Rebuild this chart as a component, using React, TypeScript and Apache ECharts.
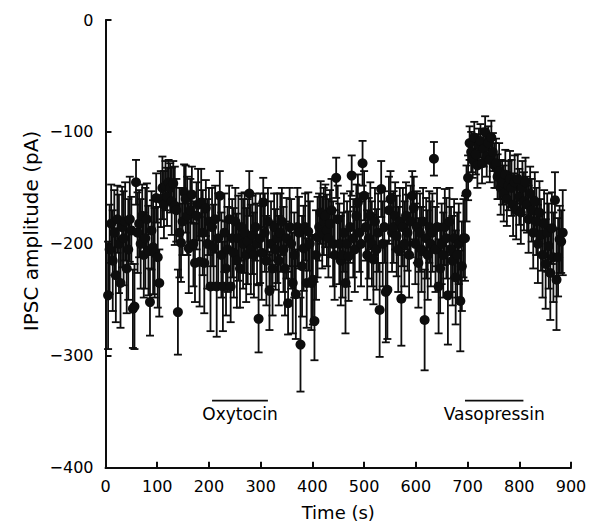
import React, { useEffect, useRef } from "react";
import * as echarts from "echarts";

const times: number[] = [
  5, 8, 11, 14, 17, 20, 23, 26, 29, 32,
  35, 38, 41, 44, 47, 50, 53, 56, 59, 62,
  65, 68, 71, 74, 77, 80, 83, 86, 89, 92,
  95, 98, 101, 104, 107, 110, 113, 116, 119, 122,
  125, 128, 131, 134, 137, 140, 143, 146, 149, 152,
  155, 158, 161, 164, 167, 170, 173, 176, 179, 182,
  185, 188, 191, 194, 197, 200, 203, 206, 209, 212,
  215, 218, 221, 224, 227, 230, 233, 236, 239, 242,
  245, 248, 251, 254, 257, 260, 263, 266, 269, 272,
  275, 278, 281, 284, 287, 290, 293, 296, 299, 302,
  305, 308, 311, 314, 317, 320, 323, 326, 329, 332,
  335, 338, 341, 344, 347, 350, 353, 356, 359, 362,
  365, 368, 371, 374, 377, 380, 383, 386, 389, 392,
  395, 398, 401, 404, 407, 410, 413, 416, 419, 422,
  425, 428, 431, 434, 437, 440, 443, 446, 449, 452,
  455, 458, 461, 464, 467, 470, 473, 476, 479, 482,
  485, 488, 491, 494, 497, 500, 503, 506, 509, 512,
  515, 518, 521, 524, 527, 530, 533, 536, 539, 542,
  545, 548, 551, 554, 557, 560, 563, 566, 569, 572,
  575, 578, 581, 584, 587, 590, 593, 596, 599, 602,
  605, 608, 611, 614, 617, 620, 623, 626, 629, 632,
  635, 638, 641, 644, 647, 650, 653, 656, 659, 662,
  665, 668, 671, 674, 677, 680, 683, 686, 689, 692,
  695, 698, 701, 704, 707, 710, 713, 716, 719, 722,
  725, 728, 731, 734, 737, 740, 743, 746, 749, 752,
  755, 758, 761, 764, 767, 770, 773, 776, 779, 782,
  785, 788, 791, 794, 797, 800, 803, 806, 809, 812,
  815, 818, 821, 824, 827, 830, 833, 836, 839, 842,
  845, 848, 851, 854, 857, 860, 863, 866, 869, 872,
  875, 878, 881, 884,
];

const amplitudes: number[] = [
  -246, -205, -182, -215, -190, -228, -178, -200, -235, -185,
  -195, -180, -222, -205, -178, -188, -258, -256, -145, -190,
  -182, -200, -175, -210, -195, -178, -206, -252, -188, -203,
  -208, -159, -212, -235, -160, -150, -165, -148, -158, -145,
  -150, -162, -146, -166, -170, -261, -190, -199, -180, -154,
  -160, -175, -204, -170, -156, -200, -217, -175, -165, -216,
  -163, -190, -217, -168, -200, -180, -238, -185, -203, -178,
  -238, -195, -157, -210, -238, -190, -222, -205, -178, -238,
  -195, -208, -180, -215, -195, -222, -185, -200, -190, -210,
  -198, -155, -205, -192, -210, -185, -200, -267, -195, -208,
  -163, -190, -215, -180, -242, -200, -222, -185, -205, -195,
  -215, -190, -180, -205, -222, -195, -253, -185, -200, -235,
  -210, -245, -185, -190, -290, -220, -204, -185, -235, -189,
  -200, -235, -232, -269, -210, -194, -185, -172, -190, -180,
  -175, -188, -195, -182, -170, -200, -210, -141, -178, -200,
  -215, -210, -190, -235, -200, -211, -185, -139, -195, -205,
  -175, -163, -190, -200, -128, -157, -185, -210, -195, -175,
  -200, -214, -180, -205, -190, -259, -151, -200, -185, -243,
  -241, -170, -160, -190, -185, -175, -193, -205, -180, -249,
  -185, -200, -175, -190, -210, -180, -157, -168, -200, -185,
  -217, -190, -205, -180, -268, -195, -210, -185, -200, -190,
  -124, -205, -185, -238, -222, -200, -210, -185, -195, -246,
  -180, -205, -215, -195, -230, -210, -200, -251, -220, -195,
  -195, -155, -141, -110, -118, -125, -105, -120, -130, -112,
  -108, -128, -115, -100, -122, -110, -125, -105, -118, -130,
  -128, -140, -135, -150, -145, -155, -138, -160, -148, -142,
  -150, -165, -145, -170, -142, -158, -172, -150, -162, -145,
  -165, -178, -155, -170, -190, -162, -180, -200, -172, -192,
  -210, -182, -218, -190, -202, -226, -186, -212, -161, -232,
  -212, -196, -198, -190,
];

const errors: number[] = [
  48, 40, 35, 45, 38, 42, 30, 44, 40, 36,
  42, 35, 40, 45, 38, 30, 35, 38, 20, 36,
  30, 40, 28, 38, 45, 32, 40, 30, 35, 42,
  40, 22, 45, 30, 25, 28, 30, 22, 26, 20,
  22, 30, 20, 35, 28, 38, 40, 35, 30, 25,
  30, 35, 40, 28, 25, 38, 35, 30, 32, 40,
  30, 38, 45, 25, 40, 30, 40, 35, 38, 30,
  45, 40, 22, 38, 40, 35, 42, 38, 30, 32,
  35, 40, 30, 42, 38, 35, 30, 40, 36, 42,
  38, 20, 40, 35, 38, 30, 36, 30, 40, 42,
  22, 35, 40, 30, 35, 38, 42, 30, 36, 40,
  40, 35, 30, 38, 42, 36, 28, 35, 40, 45,
  38, 40, 35, 32, 42, 45, 38, 30, 40, 35,
  38, 42, 40, 35, 40, 36, 30, 28, 32, 30,
  28, 32, 35, 30, 28, 38, 40, 18, 30, 36,
  40, 38, 35, 45, 38, 40, 32, 18, 35, 38,
  28, 25, 35, 38, 20, 22, 30, 40, 36, 30,
  38, 40, 30, 36, 35, 42, 25, 38, 32, 45,
  44, 30, 25, 35, 32, 30, 36, 38, 30, 42,
  35, 38, 30, 34, 38, 32, 22, 28, 36, 32,
  40, 35, 38, 30, 45, 36, 40, 32, 38, 35,
  15, 38, 35, 42, 40, 36, 38, 34, 36, 44,
  30, 38, 40, 35, 42, 38, 36, 45, 40, 35,
  38, 25, 20, 15, 18, 16, 14, 18, 20, 15,
  15, 18, 16, 14, 18, 15, 20, 15, 17, 20,
  22, 20, 25, 24, 20, 25, 22, 24, 22, 25,
  25, 28, 24, 26, 22, 25, 28, 24, 26, 22,
  25, 30, 24, 28, 32, 26, 30, 35, 28, 32,
  38, 30, 40, 35, 38, 42, 32, 40, 25, 45,
  35, 30, 28, 38,
];

const treatmentNames: string[] = ["Oxytocin", "Vasopressin"];
const treatmentStart: number[] = [206, 695];
const treatmentEnd: number[] = [314, 808];
const treatmentLevel: number[] = [-340, -340];

const xTicks = { min: 0, max: 900, interval: 100 };
const yTicks = { min: -400, max: 0, interval: 100 };

const FONT = "DejaVu Sans";
const INK = "#0d0d0d";

export default function App() {
  const ref = useRef<HTMLDivElement>(null);

  useEffect(() => {
    document.body.style.margin = "0";
    if (!ref.current) return;
    const chart = echarts.init(ref.current, undefined, { renderer: "svg" });

    const errData = times.map((t, i) => [t, amplitudes[i] - errors[i], amplitudes[i] + errors[i]]);
    const ptData = times.map((t, i) => [t, amplitudes[i]]);
    const trData = treatmentNames.map((_, i) => [treatmentStart[i], treatmentEnd[i], treatmentLevel[i]]);

    chart.setOption({
      animation: false,
      backgroundColor: "#fff",
      grid: { left: 105.5, right: 26, top: 20, bottom: 62.3, containLabel: false },
      graphic: [
        {
          type: "text",
          x: 31,
          y: 231,
          rotation: Math.PI / 2,
          style: {
            text: "IPSC amplitude (pA)",
            fill: "#000",
            font: `20px "${FONT}"`,
            align: "center",
            verticalAlign: "middle",
          },
        },
      ],
      xAxis: {
        type: "value",
        min: xTicks.min,
        max: xTicks.max,
        interval: xTicks.interval,
        name: "Time (s)",
        nameLocation: "middle",
        nameGap: 36,
        nameTextStyle: { color: "#000", fontSize: 18, fontFamily: FONT },
        axisLine: { show: true, onZero: false, lineStyle: { color: INK, width: 2 } },
        axisTick: { show: true, inside: true, length: 6, lineStyle: { color: INK, width: 2 } },
        splitLine: { show: false },
        axisLabel: { color: "#000", fontSize: 16, fontFamily: FONT, margin: 11 },
      },
      yAxis: {
        type: "value",
        min: yTicks.min,
        max: yTicks.max,
        interval: yTicks.interval,
        axisLine: { show: true, onZero: false, lineStyle: { color: INK, width: 2 } },
        axisTick: { show: true, inside: true, length: 6, lineStyle: { color: INK, width: 2 } },
        splitLine: { show: false },
        axisLabel: {
          color: "#000",
          fontSize: 16,
          fontFamily: FONT,
          margin: 12,
          formatter: (v: number) => String(v).replace("-", "\u2212"),
        },
      },
      series: [
        {
          type: "custom",
          name: "error",
          data: errData,
          z: 2,
          renderItem: (params: any, api: any) => {
            const x = api.value(0);
            const top = api.coord([x, api.value(2)]);
            const bot = api.coord([x, api.value(1)]);
            const hw = 4;
            const style = { stroke: INK, lineWidth: 1.8 };
            return {
              type: "group",
              children: [
                { type: "line", shape: { x1: top[0], y1: top[1], x2: bot[0], y2: bot[1] }, style },
                { type: "line", shape: { x1: top[0] - hw, y1: top[1], x2: top[0] + hw, y2: top[1] }, style },
                { type: "line", shape: { x1: bot[0] - hw, y1: bot[1], x2: bot[0] + hw, y2: bot[1] }, style },
              ],
            };
          },
        },
        {
          type: "scatter",
          name: "amplitude",
          data: ptData,
          symbol: "circle",
          symbolSize: 10,
          itemStyle: { color: INK, opacity: 1 },
          z: 3,
        },
        {
          type: "custom",
          name: "treatments",
          data: trData,
          z: 4,
          renderItem: (params: any, api: any) => {
            const a = api.coord([api.value(0), api.value(2)]);
            const b = api.coord([api.value(1), api.value(2)]);
            const name = treatmentNames[params.dataIndex];
            return {
              type: "group",
              children: [
                { type: "line", shape: { x1: a[0], y1: a[1], x2: b[0], y2: b[1] }, style: { stroke: INK, lineWidth: 1.8 } },
                {
                  type: "text",
                  x: (a[0] + b[0]) / 2,
                  y: a[1] + 13,
                  style: {
                    text: name,
                    fill: "#000",
                    font: `17px "${FONT}"`,
                    align: "center",
                    verticalAlign: "middle",
                  },
                },
              ],
            };
          },
        },
      ],
    });

    return () => chart.dispose();
  }, []);

  return <div ref={ref} style={{ width: 597, height: 530 }} />;
}
